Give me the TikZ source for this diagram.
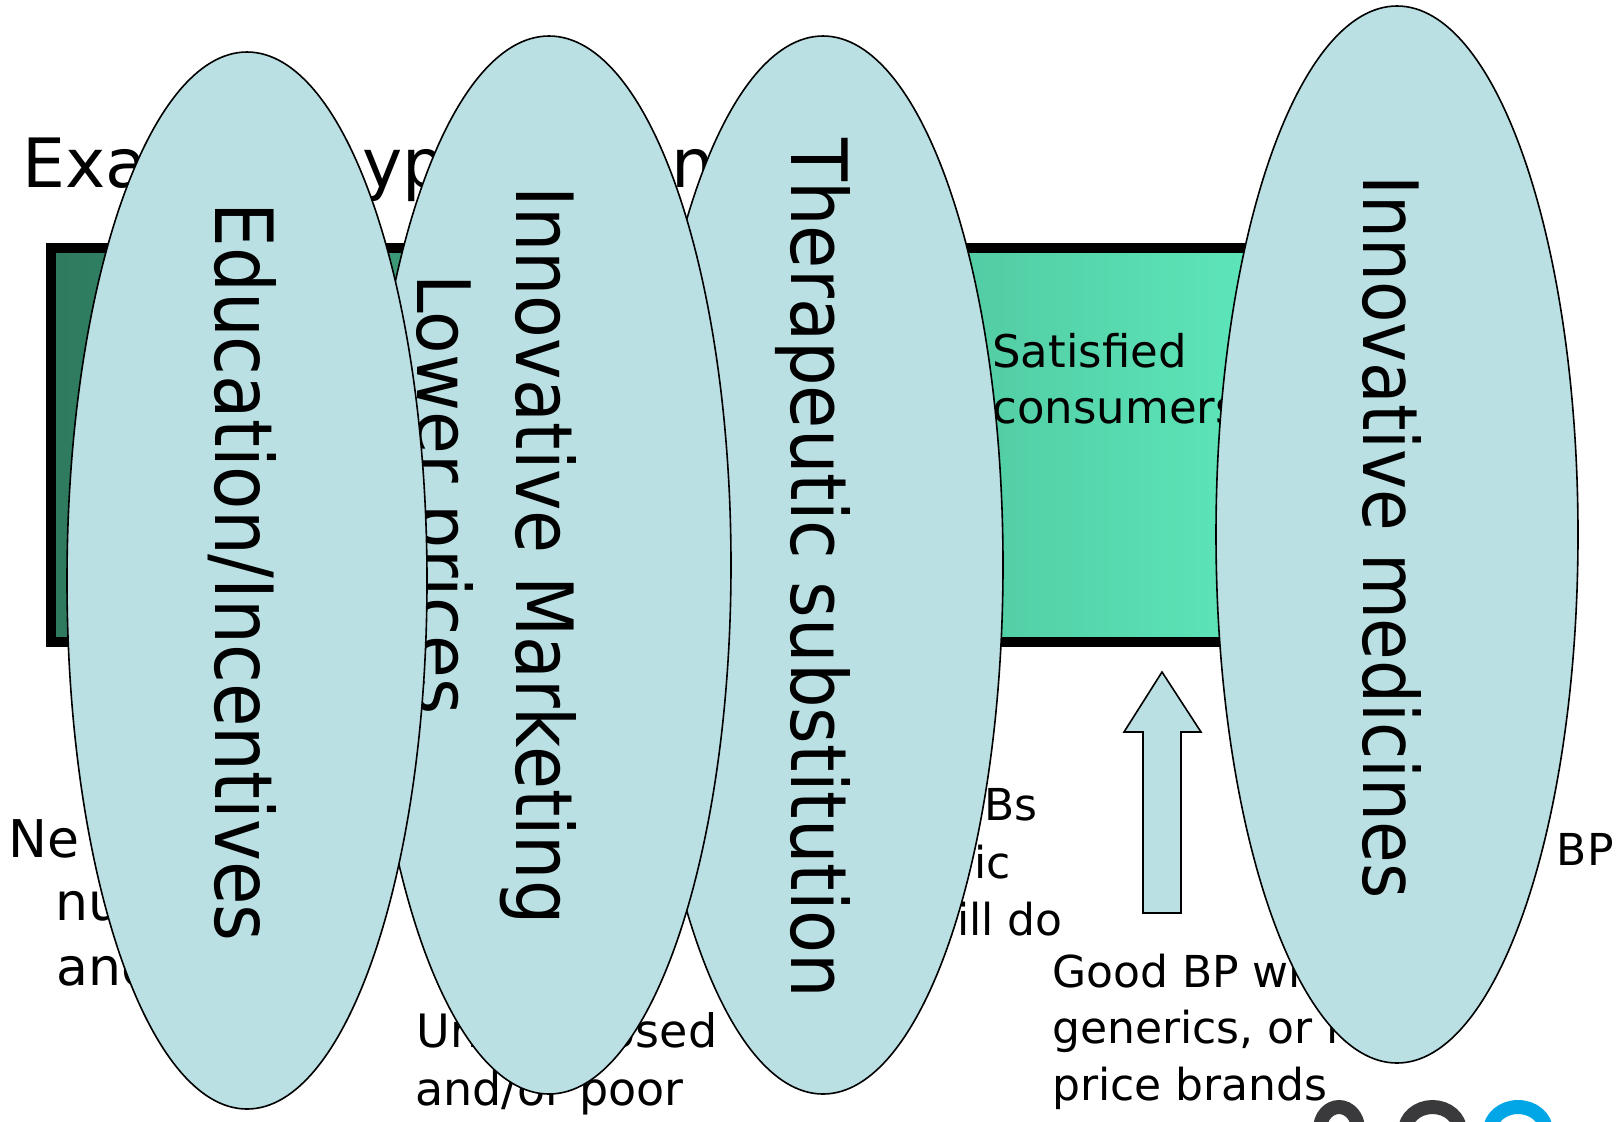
\documentclass[tikz,border=0pt]{standalone}
\usepackage{fontspec}
\setmainfont{DejaVu Sans}
\usepackage{graphicx}
\usetikzlibrary{shapes.geometric}
\definecolor{bubblefill}{RGB}{186,224,227}
\definecolor{rectL}{RGB}{46,122,94}
\definecolor{rectM}{RGB}{74,186,148}
\definecolor{rectR}{RGB}{95,234,189}
\definecolor{logogray}{RGB}{58,58,60}
\definecolor{logoblue}{RGB}{0,166,230}
\begin{document}
\begin{tikzpicture}[x=0.5pt,y=-0.5pt,
  bubble/.style={ellipse, draw=black, line width=0.8pt, fill=bubblefill, inner sep=0pt, outer sep=0pt},
  vlabel/.style={rotate=-90, anchor=base west, inner sep=0pt, font=\fontsize{40}{48}\selectfont},
  txt/.style={anchor=base west, inner sep=0pt, font=\fontsize{22}{26}\selectfont},
  txtr/.style={anchor=base east, inner sep=0pt, font=\fontsize{22}{26}\selectfont},
  title/.style={anchor=base west, inner sep=0pt, font=\fontsize{34}{40}\selectfont},
  blockarrow/.style={draw=black, line width=0.8pt, fill=bubblefill, line join=miter},
  logoring/.style={line width=7pt}
]
\path[use as bounding box] (0,0) rectangle (1622,1121);
\fill[white] (0,0) rectangle (1622,1121);
\clip (0,0) rectangle (1622,1121);

% title fragments (mostly hidden)
\node[title] (ttlA) at (22,187) {Exa};
\node[title] (ttlB) at (362,187) {yp};
\node[title] (ttlC) at (671,187) {n};

% bottom texts
\node[txt, font=\fontsize{26}{30}\selectfont] (bl1) at (8,857) {Ne};
\node[txt, font=\fontsize{26}{30}\selectfont] (bl2) at (55,920) {nu};
\node[txt, font=\fontsize{26}{30}\selectfont] (bl3) at (56,985) {and};

\node[txt, font=\fontsize{23}{27}\selectfont] (bm1) at (416,1047) {Undiagnosed};
\node[txt, font=\fontsize{23}{27}\selectfont] (bm2) at (415,1105) {and/or poor};

\node[txtr] (rm1) at (1038,820) {Bs};
\node[txtr] (rm2) at (1011,878) {ic};
\node[txtr] (rm3) at (1063,935) {ill do};

\node[txt] (gb1) at (1052,987) {Good BP with};
\node[txt] (gb2) at (1052,1043) {generics, or lower};
\node[txt] (gb3) at (1052,1100) {price brands};

\node[txtr] (bp) at (1614,865) {BP};

% big gradient rectangle
\shade[left color=rectL, middle color=rectM, right color=rectR] (51,248) rectangle (1300,642);
\draw[line width=5pt] (51,248) rectangle (1300,642);

\node[txt, font=\fontsize{22.5}{27}\selectfont] (sat1) at (992,367) {Satisfied};
\node[txt, font=\fontsize{22.5}{27}\selectfont] (sat2) at (992,423) {consumers};

% block arrow
\draw[blockarrow] (1143,913) -- (1143,732) -- (1124,732) -- (1162,672) -- (1201,732) -- (1181,732) -- (1181,913) -- cycle;

% ellipses, right to left (leftmost on top)
\node[bubble, minimum width=181pt, minimum height=528.5pt] (medE) at (1397,534.5) {};
\node[vlabel] (medL) at (1363,175) {\resizebox{361.5pt}{29pt}{Innovative medicines}};

\node[bubble, minimum width=180pt, minimum height=529pt] (therE) at (823,565) {};
\node[vlabel] (therL) at (791,138) {\resizebox{430pt}{29.5pt}{Therapeutic substitution}};

\node[bubble, minimum width=182pt, minimum height=529pt] (mktE) at (549,565) {};
\node[vlabel] (mktL) at (516,186) {\resizebox{369pt}{30pt}{Innovative Marketing}};

\node[vlabel] (lowL) at (417,274) {\resizebox{220pt}{28pt}{Lower prices}};

\node[bubble, minimum width=180pt, minimum height=528.5pt] (eduE) at (247,580.5) {};
\node[vlabel] (eduL) at (215,202) {\resizebox{369.5pt}{30.5pt}{Education/Incentives}};

% logo fragment at the bottom edge
\draw[logoring, logogray] (1339,1129) ellipse [x radius=9.5pt, y radius=11pt];
\draw[logoring, logogray] (1432.5,1131) ellipse [x radius=13.75pt, y radius=12pt];
\draw[logoring, logoblue] (1518,1131) ellipse [x radius=14pt, y radius=12pt];
\end{tikzpicture}
\end{document}
